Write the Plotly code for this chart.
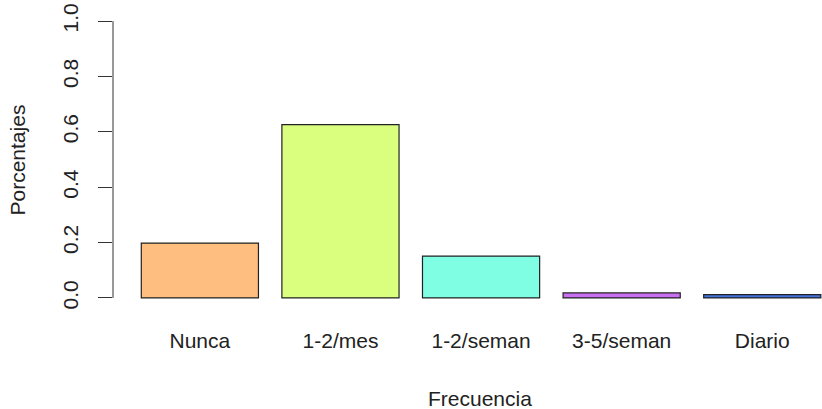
import plotly.graph_objects as go

# datos
categorias = ["Nunca", "1-2/mes", "1-2/seman", "3-5/seman", "Diario"]
porcentajes = [0.198, 0.626, 0.151, 0.018, 0.012]
colores = ["#FDBE80", "#DAFE7E", "#7FFEE3", "#C870F0", "#4472DC"]
yticks = [0.0, 0.2, 0.4, 0.6, 0.8, 1.0]

# posiciones estilo barplot de R (ancho 1, espacio 0.2)
pos = [0.7 + 1.2 * i for i in range(len(categorias))]

fuente = dict(family="Arial, Liberation Sans, sans-serif", size=21, color="#222")

fig = go.Figure(go.Bar(
    x=pos,
    y=porcentajes,
    width=1,
    marker=dict(color=colores, line=dict(color="#222", width=1.2)),
))

fig.update_layout(
    width=822,
    height=409,
    margin=dict(l=113, r=0, t=10, b=100, autoexpand=False),
    plot_bgcolor="white",
    paper_bgcolor="white",
    showlegend=False,
    font=fuente,
    xaxis=dict(
        range=[-0.0415, 6.01],
        tickvals=pos,
        ticktext=categorias,
        showgrid=False,
        zeroline=False,
        showline=False,
        ticks="",
        ticklabelstandoff=17,
        automargin=False,
    ),
    yaxis=dict(
        range=[-0.04, 1.04],
        tickvals=yticks,
        tickformat=".1f",
        tickangle=-90,
        ticks="outside",
        ticklen=14,
        tickcolor="#333",
        tickwidth=1,
        showgrid=False,
        zeroline=False,
        showline=False,
        ticklabelstandoff=12,
        ticklabeloverflow="allow",
        automargin=False,
    ),
    shapes=[dict(type="line", xref="paper", yref="y", x0=0, x1=0, y0=0, y1=1,
                 line=dict(color="#333", width=1))],
    annotations=[
        dict(text="Porcentajes", xref="paper", yref="paper", x=-96 / 709, y=0.5,
             textangle=-90, showarrow=False, xanchor="center", yanchor="middle"),
        dict(text="Frecuencia", xref="paper", yref="paper", x=367 / 709, y=-89 / 299,
             showarrow=False, xanchor="center", yanchor="middle"),
    ],
)

# quitar el margen del body para que el grafico ocupe toda la ventana
fig.write_html("out.html", config={"displayModeBar": False},
               post_script="document.body.style.margin='0';")
